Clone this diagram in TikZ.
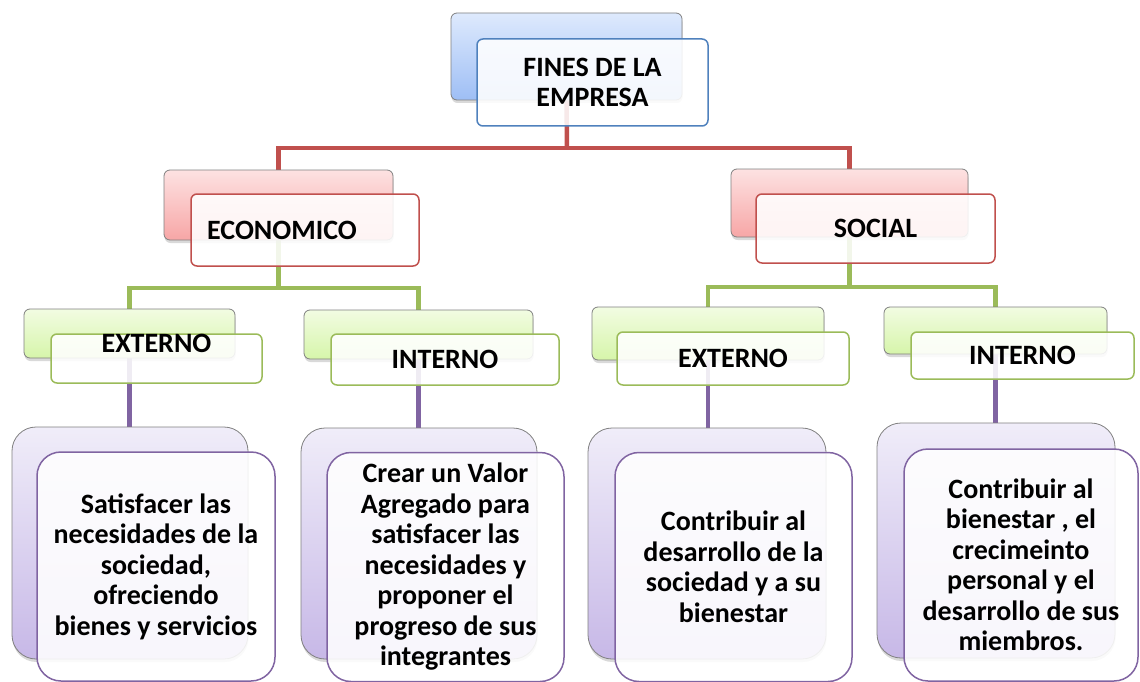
\documentclass[tikz,border=0pt]{standalone}
\usepackage{fontspec}
\setmainfont{Carlito}
\usetikzlibrary{shadows,backgrounds}

\definecolor{lineaAzul}{RGB}{79,129,189}
\definecolor{lineaRoja}{RGB}{192,80,77}
\definecolor{lineaVerde}{RGB}{155,187,89}
\definecolor{lineaMorada}{RGB}{128,100,162}

\tikzset{
  atras/.style={rounded corners=6pt, draw=black!50, line width=0.8pt, inner sep=0pt,
    drop shadow={shadow xshift=0.5pt, shadow yshift=-3pt, opacity=.3}},
  frente/.style={rounded corners=6pt, fill=white, fill opacity=.88, text opacity=1,
    line width=1.5pt, inner sep=0pt, align=center,
    font=\bfseries\fontsize{28}{30.5}\selectfont},
  azulB/.style={atras, top color={rgb,255:red,222;green,234;blue,253}, bottom color={rgb,255:red,158;green,190;blue,245}},
  rojoB/.style={atras, top color={rgb,255:red,253;green,226;blue,226}, bottom color={rgb,255:red,247;green,166;blue,166}},
  verdeB/.style={atras, top color={rgb,255:red,242;green,252;blue,226}, bottom color={rgb,255:red,214;green,245;blue,170}},
  moradoB/.style={atras, rounded corners=24pt, top color={rgb,255:red,240;green,237;blue,249}, bottom color={rgb,255:red,199;green,184;blue,231}},
  hoja/.style={frente, rounded corners=24pt, draw=lineaMorada},
  conector/.style={line width=4.5pt}
}

\begin{document}
\begin{tikzpicture}[x=1pt,y=1pt,yscale=-1,xscale=1]
\useasboundingbox (0,0) rectangle (1140,682);

% nivel 1
\node[azulB, minimum width=231pt, minimum height=87pt] (finesB) at (566.5,56.5) {};
\node[frente, draw=lineaAzul, minimum width=231pt, minimum height=87pt] (finesF) at (592.5,82.5) {FINES DE LA\\EMPRESA};

% nivel 2
\node[rojoB, minimum width=229pt, minimum height=70pt] (econB) at (278.5,205) {};
\node[frente, draw=lineaRoja, minimum width=228pt, minimum height=72pt] (econF) at (305,230) {ECONOMICO\hspace{46pt}};
\node[rojoB, minimum width=237pt, minimum height=68pt] (socB) at (849.5,203) {};
\node[frente, draw=lineaRoja, minimum width=239pt, minimum height=69pt] (socF) at (875.5,228.5) {SOCIAL};

% nivel 3
\node[verdeB, minimum width=211pt, minimum height=49pt] (extLB) at (129.5,333.5) {};
\node[frente, draw=lineaVerde, minimum width=211pt, minimum height=49pt] (extLF) at (156.5,358.5) {\raisebox{15pt}[\height][\depth]{EXTERNO}};
\node[verdeB, minimum width=229pt, minimum height=49pt] (intLB) at (418.5,334.5) {};
\node[frente, draw=lineaVerde, minimum width=228pt, minimum height=51pt] (intLF) at (445,359.5) {INTERNO};
\node[verdeB, minimum width=232pt, minimum height=53pt] (extRB) at (708,333.5) {};
\node[frente, draw=lineaVerde, minimum width=232pt, minimum height=53pt] (extRF) at (733,358.5) {EXTERNO};
\node[verdeB, minimum width=223pt, minimum height=47pt] (intRB) at (995.5,330.5) {};
\node[frente, draw=lineaVerde, minimum width=223pt, minimum height=47pt] (intRF) at (1022.5,355.5) {INTERNO};

% nivel 4
\node[moradoB, minimum width=236pt, minimum height=232pt] (hoja1B) at (130,543) {};
\node[hoja, minimum width=238pt, minimum height=229pt] (hoja1F) at (156,566.5) {Satisfacer las\\necesidades de la\\sociedad,\\ofreciendo\\bienes y servicios};
\node[moradoB, minimum width=236pt, minimum height=231pt] (hoja2B) at (419,543.5) {};
\node[hoja, minimum width=237pt, minimum height=229pt] (hoja2F) at (445.5,567) {Crear un Valor\\Agregado para\\satisfacer las\\necesidades y\\proponer el\\progreso de sus\\integrantes};
\node[moradoB, minimum width=238pt, minimum height=231pt] (hoja3B) at (707,543.5) {};
\node[hoja, minimum width=237pt, minimum height=229pt] (hoja3F) at (733.5,567) {Contribuir al\\desarrollo de la\\sociedad y a su\\bienestar};
\node[moradoB, minimum width=238pt, minimum height=235pt] (hoja4B) at (996,540.5) {};
\node[hoja, minimum width=234pt, minimum height=232pt] (hoja4F) at (1021,565) {Contribuir al\\bienestar , el\\crecimeinto\\personal y el\\desarrollo de sus\\miembros.\hspace{8pt}};

\coordinate (busR) at (567,148);
\coordinate (busGL) at (278.5,288);
\coordinate (busGR) at (849.5,287);

\begin{pgfonlayer}{background}
\draw[conector, lineaRoja] (finesB.south) -- (busR);
\draw[conector, lineaRoja] (econB.north) |- (busR) -| (socB.north);
\draw[conector, lineaVerde] (econB.south) -- (busGL);
\draw[conector, lineaVerde] (extLB.north) |- (busGL) -| (intLB.north);
\draw[conector, lineaVerde] (socB.south) -- (busGR);
\draw[conector, lineaVerde] (extRB.north) |- (busGR) -| (intRB.north);
\draw[conector, lineaMorada] (extLB.south) -- (extLB.south |- hoja1B.north);
\draw[conector, lineaMorada] (intLB.south) -- (intLB.south |- hoja2B.north);
\draw[conector, lineaMorada] (extRB.south) -- (extRB.south |- hoja3B.north);
\draw[conector, lineaMorada] (intRB.south) -- (intRB.south |- hoja4B.north);
\end{pgfonlayer}
\end{tikzpicture}
\end{document}
